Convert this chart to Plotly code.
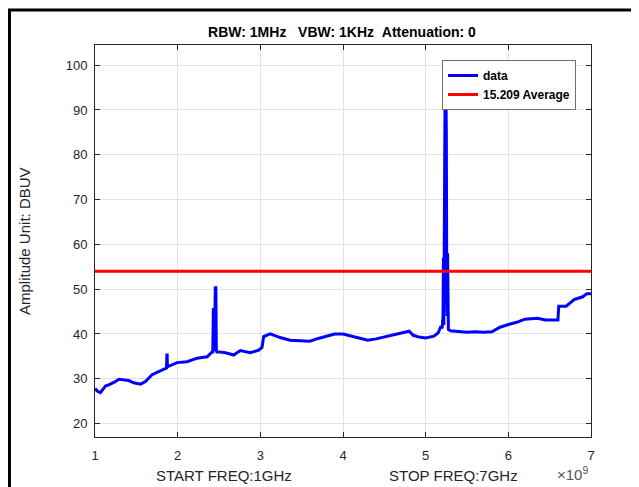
import plotly.graph_objects as go

# ---- data ----
freq_ghz = [1.0, 1.006, 1.03, 1.066, 1.09, 1.127, 1.16, 1.187, 1.24, 1.288, 1.348, 1.408, 1.469, 1.55, 1.61,
            1.69, 1.75, 1.81, 1.865, 1.870, 1.873, 1.876, 1.88, 1.993, 2.114, 2.235, 2.356, 2.416,
            2.425, 2.432, 2.438, 2.445, 2.455, 2.462, 2.468, 2.475, 2.496, 2.58, 2.677, 2.758, 2.879,
            2.98, 3.02, 3.04, 3.12, 3.24, 3.36, 3.5, 3.6, 3.7, 3.8, 3.9, 4.0, 4.1, 4.2, 4.3, 4.4,
            4.5, 4.6, 4.7, 4.8, 4.85, 4.92, 5.0, 5.1, 5.15, 5.18, 5.2, 5.21, 5.215, 5.22, 5.225,
            5.23, 5.235, 5.245, 5.25, 5.255, 5.26, 5.265, 5.275, 5.3, 5.4, 5.5, 5.6, 5.7, 5.8,
            5.9, 6.0, 6.1, 6.2, 6.35, 6.45, 6.6, 6.61, 6.7, 6.8, 6.9, 6.95, 7.0]
amplitude = [27.8, 27.7, 27.2, 26.9, 27.6, 28.4, 28.6, 28.8, 29.3, 29.9, 29.7, 29.6, 29.1, 28.8, 29.4,
             30.9, 31.4, 32.0, 32.4, 35.3, 35.3, 32.6, 32.7, 33.6, 33.8, 34.6, 34.9, 36.0,
             36.0, 45.8, 38.0, 36.2, 50.3, 50.3, 36.2, 36.0, 36.0, 35.8, 35.3, 36.3, 35.8,
             36.4, 37.0, 39.4, 40.0, 39.2, 38.6, 38.5, 38.4, 39.0, 39.5, 40.0, 40.0, 39.5, 39.0, 38.6, 38.9,
             39.3, 39.8, 40.2, 40.6, 39.7, 39.3, 39.1, 39.5, 40.2, 41.5, 41.5, 44.0, 57.0, 42.0, 60.0,
             74.0, 95.0, 94.0, 85.0, 52.0, 44.0, 58.0, 41.0, 40.7, 40.5, 40.4, 40.5, 40.4, 40.5,
             41.5, 42.1, 42.6, 43.3, 43.5, 43.1, 43.1, 46.2, 46.2, 47.7, 48.3, 49.0, 49.0]
limit_level = 54.0
limit_freq_ghz = [1.0, 7.0]

x_tick_vals_ghz = [1, 2, 3, 4, 5, 6, 7]
x_tick_text = ["1", "2", "3", "4", "5", "6", "7"]
y_tick_vals = [20, 30, 40, 50, 60, 70, 80, 90, 100]

title_text = "RBW:\u00a01MHz\u00a0\u00a0\u00a0VBW:\u00a01KHz\u00a0\u00a0Attenuation:\u00a00"
y_label = "Amplitude Unit: DBUV"
x_label_start = "START FREQ:1GHz"
x_label_stop = "STOP FREQ:7GHz"

# ---- layout geometry (page body has an 8px margin) ----
OFF = 8
W, H = 631, 479
ML, MR, MT, MB = 87, 48, 37, 50
PW, PH = W - ML - MR, H - MT - MB


def px_x(p):
    """absolute page x pixel -> paper coordinate"""
    return (p - OFF - ML) / PW


def px_y(p):
    """absolute page y pixel -> paper coordinate"""
    return (H - MB - (p - OFF)) / PH


FONT = "Liberation Sans, Arial, Helvetica, sans-serif"
AXC = "#262626"

fig = go.Figure()
fig.add_trace(go.Scatter(
    x=[f * 1e9 for f in freq_ghz], y=amplitude, mode="lines", name="data",
    line=dict(color="#0000ff", width=3)))
fig.add_trace(go.Scatter(
    x=[f * 1e9 for f in limit_freq_ghz], y=[limit_level, limit_level], mode="lines",
    name="15.209 Average", line=dict(color="#ff0000", width=3)))

axis_common = dict(
    showline=True, linecolor=AXC, linewidth=1, mirror="ticks",
    ticks="inside", ticklen=5, tickcolor=AXC, tickwidth=1,
    showgrid=True, gridcolor="#e3e3e3", gridwidth=1, zeroline=False,
    tickfont=dict(family=FONT, size=13, color=AXC),
)

fig.update_layout(
    width=W, height=H,
    margin=dict(l=ML, r=MR, t=MT, b=MB, pad=0),
    paper_bgcolor="white", plot_bgcolor="white",
    font=dict(family=FONT, color=AXC),
    title=dict(text=title_text, x=px_x(342), xref="paper", xanchor="center",
               y=1 - (32 - OFF) / H, yref="container", yanchor="middle",
               font=dict(family=FONT, size=14, color="#000000", weight="bold")),
    xaxis=dict(range=[1e9, 7e9], tickvals=[v * 1e9 for v in x_tick_vals_ghz], ticktext=x_tick_text,
               ticklabelstandoff=6, **axis_common),
    yaxis=dict(range=[17.0, 104.5], tickvals=y_tick_vals, ticklabelstandoff=4, **axis_common),
    showlegend=True,
    legend=dict(x=px_x(576), y=px_y(60), xanchor="right", yanchor="top",
                bgcolor="white", bordercolor="#707070", borderwidth=1,
                font=dict(family=FONT, size=12, color="#000000", weight="bold"),
                itemwidth=30, tracegroupgap=0),
)

fig.add_annotation(text=y_label, textangle=-90, xref="paper", yref="paper",
                   x=px_x(24), y=px_y(241), xanchor="center", yanchor="middle", showarrow=False,
                   font=dict(family=FONT, size=15, color=AXC))
fig.add_annotation(text=x_label_start, xref="paper", yref="paper",
                   x=px_x(223.5), y=px_y(475), xanchor="center", yanchor="middle", showarrow=False,
                   font=dict(family=FONT, size=15, color=AXC))
fig.add_annotation(text=x_label_stop, xref="paper", yref="paper",
                   x=px_x(453), y=px_y(475), xanchor="center", yanchor="middle", showarrow=False,
                   font=dict(family=FONT, size=15, color=AXC))
fig.add_annotation(text="\u00d710<sup>9</sup>", xref="paper", yref="paper",
                   x=px_x(572), y=px_y(473), xanchor="center", yanchor="middle", showarrow=False,
                   font=dict(family=FONT, size=15, color="#555555"))

# outer black frame (left and top edges)
fig.add_shape(type="line", xref="paper", yref="paper",
              x0=px_x(9.5), x1=px_x(9.5), y0=px_y(9), y1=px_y(H + OFF + 2),
              line=dict(color="black", width=3))
fig.add_shape(type="line", xref="paper", yref="paper",
              x0=px_x(8), x1=px_x(W + OFF + 2), y0=px_y(10), y1=px_y(10),
              line=dict(color="black", width=3))

fig.write_html("out.html")
